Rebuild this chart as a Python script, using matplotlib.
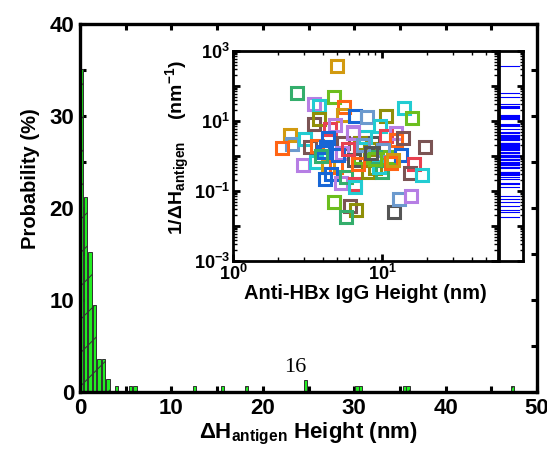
import numpy as np
import matplotlib
matplotlib.use('Agg')
from matplotlib import pyplot as plt
from matplotlib.ticker import MultipleLocator, LogLocator, FuncFormatter, NullFormatter

plt.rcParams['font.family'] = ['Liberation Sans', 'DejaVu Sans']
plt.rcParams['font.weight'] = 'bold'
plt.rcParams['axes.labelweight'] = 'bold'
plt.rcParams['mathtext.default'] = 'regular'
plt.rcParams['hatch.linewidth'] = 0.7

# Histogram of the height change (bin centres in nm, probability in %)
bar_x = [0.2, 0.62, 1.08, 1.6, 2.08, 2.57, 3.05, 4.0, 5.5, 6.0,
         12.5, 15.6, 18.2, 24.7, 30.3, 30.7, 35.5, 35.9, 47.3]
bar_h = [35.1, 21.2, 15.25, 9.46, 3.55, 3.55, 1.38, 0.65, 0.65, 0.65,
         0.65, 0.65, 0.65, 1.3, 0.65, 0.65, 0.65, 0.65, 0.65]
note_x, note_y, note_txt = 23.6, 2.2, '16'

# Inset: IgG height vs 1/dH, one group per colour
igg_h = [4.99, 2.69, 4.76, 3.5, 3.8, 5.53, 5.47, 6.55, 7.95, 10.7,
         14.1, 15.8, 3.5, 3.78, 4.46, 4.8, 6.38, 9.66, 2.4, 2.49,
         2.14, 3.06, 3.27, 3.68, 4.23, 5.47, 5.38, 6.49, 8.7, 8.27,
         10.6, 12.5, 12.5, 13.8, 19.4, 11.1, 13.5, 16.4, 15.5, 18.5,
         2.95, 3.62, 4.35, 4.9, 4.17, 4.57, 5.3, 5.76, 6.56, 6.56,
         8.05, 8.92, 10.0, 9.5, 4.76, 6.07, 6.73, 5.76, 12.0, 12.9,
         15.7, 4.35, 5.07, 7.08, 7.65, 7.08, 8.92, 10.2, 11.5, 6.38,
         4.0, 5.9, 7.4, 9.0, 11.8, 3.9, 6.9, 8.4]
inv_dh = [372, 62, 49, 30, 26, 24.6, 14.8, 13.9, 12.7, 14.2,
          23.2, 12.0, 8.2, 11.2, 5.8, 7.7, 4.9, 7.2, 4.0, 2.16,
          1.66, 3.0, 1.85, 1.93, 1.85, 2.4, 1.19, 0.77, 2.4, 1.55,
          3.7, 4.45, 2.87, 3.2, 1.85, 0.91, 1.07, 0.59, 0.33, 0.29,
          0.55, 0.69, 0.5, 0.48, 0.215, 0.31, 0.166, 0.246, 0.158, 0.133,
          0.355, 0.445, 0.355, 0.5, 0.05, 0.038, 0.029, 0.0186, 0.0246, 0.058,
          0.074, 3.2, 1.07, 2.3, 3.56, 0.95, 0.95, 1.48, 0.62, 4.45,
          1.3, 1.6, 2.0, 0.8, 0.75, 1.0, 0.6, 1.2]
group = [2, 6, 11, 3, 5, 1, 2, 0, 9, 10,
         5, 11, 7, 10, 4, 3, 3, 5, 2, 9,
         1, 5, 7, 1, 0, 7, 3, 8, 8, 10,
         4, 3, 1, 7, 7, 11, 0, 4, 7, 5,
         3, 5, 2, 1, 0, 0, 3, 6, 4, 5,
         10, 10, 6, 5, 11, 7, 10, 6, 8, 9,
         3, 0, 0, 10, 5, 11, 6, 9, 1, 3,
         0, 4, 9, 11, 2, 6, 1, 8]
palette = ['#1766D6', '#FF6414', '#D29A10', '#B67EE4', '#E84050', '#22CCD2',
           '#34AE6C', '#7B5454', '#555555', '#6C9ACE', '#8F8F08', '#6CBE1E']

fig = plt.figure(figsize=(5.47, 4.53), dpi=100)

# main histogram
ax = fig.add_axes([0.1463, 0.1347, 0.8354, 0.8123])
ax.bar(bar_x, bar_h, width=0.36, color='#22EE22', edgecolor='#303030',
       linewidth=0.7, hatch='/', zorder=2)
ax.text(note_x, note_y, note_txt, family='Liberation Serif', weight='normal',
        fontsize=16, ha='center', va='baseline')
ax.set_xlim(0, 50)
ax.set_ylim(0, 40)
ax.xaxis.set_major_locator(MultipleLocator(10))
ax.xaxis.set_minor_locator(MultipleLocator(5))
ax.yaxis.set_major_locator(MultipleLocator(10))
ax.yaxis.set_minor_locator(MultipleLocator(5))
ax.tick_params(which='both', direction='in', top=True, right=True, width=2.2,
               labelsize=16, pad=4, zorder=5)
ax.tick_params(which='major', length=4)
ax.tick_params(which='minor', length=4)
for s in ax.spines.values():
    s.set_linewidth(2.4)
    s.set_zorder(4)
ax.set_xlabel(r'$\Delta$H$_{antigen}$ Height (nm)', fontsize=16, labelpad=2)
ax.set_ylabel('Probability (%)', fontsize=14.5)
ax.yaxis.set_label_coords(-0.088, 0.58)

# inset scatter
ins = fig.add_axes([0.4260, 0.4238, 0.4844, 0.4636])
for xi, yi, g in zip(igg_h, inv_dh, group):
    ins.plot(xi, yi, 's', ms=8, mfc='none', mec=palette[g], mew=2.2)
ins.set_xscale('log')
ins.set_yscale('log')
ins.set_xlim(1, 60)
ins.set_ylim(1e-3, 1e3)
ins.xaxis.set_major_locator(LogLocator(base=10, numticks=5))
ins.xaxis.set_minor_locator(LogLocator(base=10, subs=np.arange(2, 10), numticks=10))
ins.xaxis.set_minor_formatter(NullFormatter())
ins.yaxis.set_major_locator(LogLocator(base=10, numticks=10))
ins.yaxis.set_minor_locator(LogLocator(base=10, subs=np.arange(2, 10), numticks=10))
ins.yaxis.set_minor_formatter(NullFormatter())
ins.yaxis.set_major_formatter(FuncFormatter(
    lambda v, p: r'$\mathdefault{10^{%d}}$' % round(np.log10(v)) if round(np.log10(v)) % 2 else ''))
ins.tick_params(which='both', direction='in', top=True, right=True, labelsize=13, pad=2)
ins.tick_params(which='major', length=5, width=2)
ins.tick_params(which='minor', length=3, width=1)
for s in ins.spines.values():
    s.set_linewidth(2)
ins.set_xlabel('Anti-HBx IgG Height (nm)', fontsize=14.5, labelpad=0)
ins.set_ylabel(r'1/$\Delta$H$_{antigen}$    (nm$^{-1}$)', fontsize=14)
ins.yaxis.set_label_coords(-0.155, 0.54)

# marginal rug of 1/dH values
rug = fig.add_axes([0.9123, 0.4238, 0.0440, 0.4636])
for yi in inv_dh:
    rug.axhline(yi, xmin=0, xmax=0.85, color='#0000FF', lw=0.8)
rug.set_yscale('log')
rug.set_ylim(1e-3, 1e3)
rug.set_xticks([])
rug.yaxis.set_major_locator(LogLocator(base=10, numticks=10))
rug.yaxis.set_minor_locator(LogLocator(base=10, subs=np.arange(2, 10), numticks=10))
rug.tick_params(which='both', direction='in', left=False, right=True,
                labelleft=False, labelright=False)
rug.tick_params(which='major', length=4, width=2)
rug.tick_params(which='minor', length=2.5, width=1)
for s in rug.spines.values():
    s.set_linewidth(2)

fig.savefig('out.png', dpi=100)
